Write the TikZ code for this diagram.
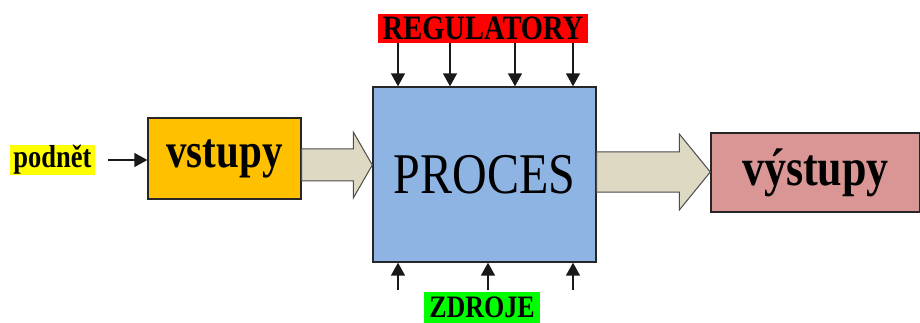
\documentclass[tikz,border=0pt]{standalone}
\usepackage{fontspec}
\setmainfont{Liberation Serif}
\usetikzlibrary{arrows.meta,calc}
\definecolor{cOrange}{HTML}{FFC000}
\definecolor{cBlue}{HTML}{8EB4E3}
\definecolor{cPink}{HTML}{D99694}
\definecolor{cTan}{HTML}{DDD9C3}
\definecolor{cRed}{HTML}{FF0000}
\definecolor{cGreen}{HTML}{00FF00}
\definecolor{cYellow}{HTML}{FFFF00}
\newcommand{\tallt}[1]{\scalebox{1}[1.2]{#1}}
\tikzset{
  boxstyle/.style={draw=black!85, line width=1.4pt, inner sep=0pt, anchor=center},
  labelbox/.style={inner sep=0pt, anchor=center, font=\bfseries},
  thinarrow/.style={draw=black!90, line width=1.6pt, -{Triangle[width=14pt,length=13pt]}},
  bigarrow/.style={draw=black!70, line width=1pt, fill=cTan, line join=miter},
}
\begin{document}
\begin{tikzpicture}[x=1pt,y=-1pt]
\useasboundingbox[fill=white] (0,0) rectangle (920,323);
% boxes
\node[boxstyle, fill=cOrange, minimum width=153pt, minimum height=81pt] (vstupy) at (224.5,158.5) {\fontsize{41}{41}\selectfont\bfseries\tallt{vstupy}};
\node[boxstyle, fill=cBlue, minimum width=223pt, minimum height=175pt] (proces) at (484.5,174.5) {\fontsize{48}{48}\selectfont\tallt{PROCES}};
\node[boxstyle, fill=cPink, minimum width=209pt, minimum height=79pt] (vystupy) at (815.5,172.5) {\fontsize{44}{44}\selectfont\bfseries\tallt{výstupy}};
\node[labelbox, fill=cRed, minimum width=210pt, minimum height=29pt] (reg) at (483,28.5) {\fontsize{28.5}{28.5}\selectfont\tallt{REGULATORY}};
\node[labelbox, fill=cGreen, minimum width=116pt, minimum height=31pt] (zdroje) at (482,307.5) {\fontsize{26}{26}\selectfont\tallt{ZDROJE}};
\node[labelbox, fill=cYellow, minimum width=85pt, minimum height=24pt] (podnet) at (52.5,160) {\fontsize{26.5}{26.5}\selectfont\tallt{podnět}};
% stimulus arrow
\draw[thinarrow, shorten <=13pt] (podnet.east) -- (vstupy.west |- podnet.east);
% regulator arrows
\foreach \i/\x in {1/398,2/450,3/515,4/573}{
  \coordinate (r\i) at (\x,0);
  \draw[thinarrow] (reg.south -| r\i) -- (proces.north -| r\i);
}
% source arrows
\coordinate (zs) at (0,290);
\foreach \i/\x in {1/398,2/488,3/573}{
  \coordinate (z\i) at (\x,0);
  \draw[thinarrow] (zs -| z\i) -- (proces.south -| z\i);
}
% big arrows
\coordinate (a1) at (vstupy.east |- 0,165);
\coordinate (t1) at (proces.west |- 0,165);
\draw[bigarrow] ($(a1)+(0,-16)$) -- ($(t1)+(-19,-16)$) -- ($(t1)+(-19,-33)$) -- (t1) -- ($(t1)+(-19,33)$) -- ($(t1)+(-19,16)$) -- ($(a1)+(0,16)$) -- cycle;
\coordinate (a2) at (proces.east |- 0,172);
\coordinate (t2) at (vystupy.west |- 0,172);
\draw[bigarrow] ($(a2)+(0,-20)$) -- ($(t2)+(-31,-20)$) -- ($(t2)+(-31,-38)$) -- (t2) -- ($(t2)+(-31,38)$) -- ($(t2)+(-31,20)$) -- ($(a2)+(0,20)$) -- cycle;
\end{tikzpicture}
\end{document}
